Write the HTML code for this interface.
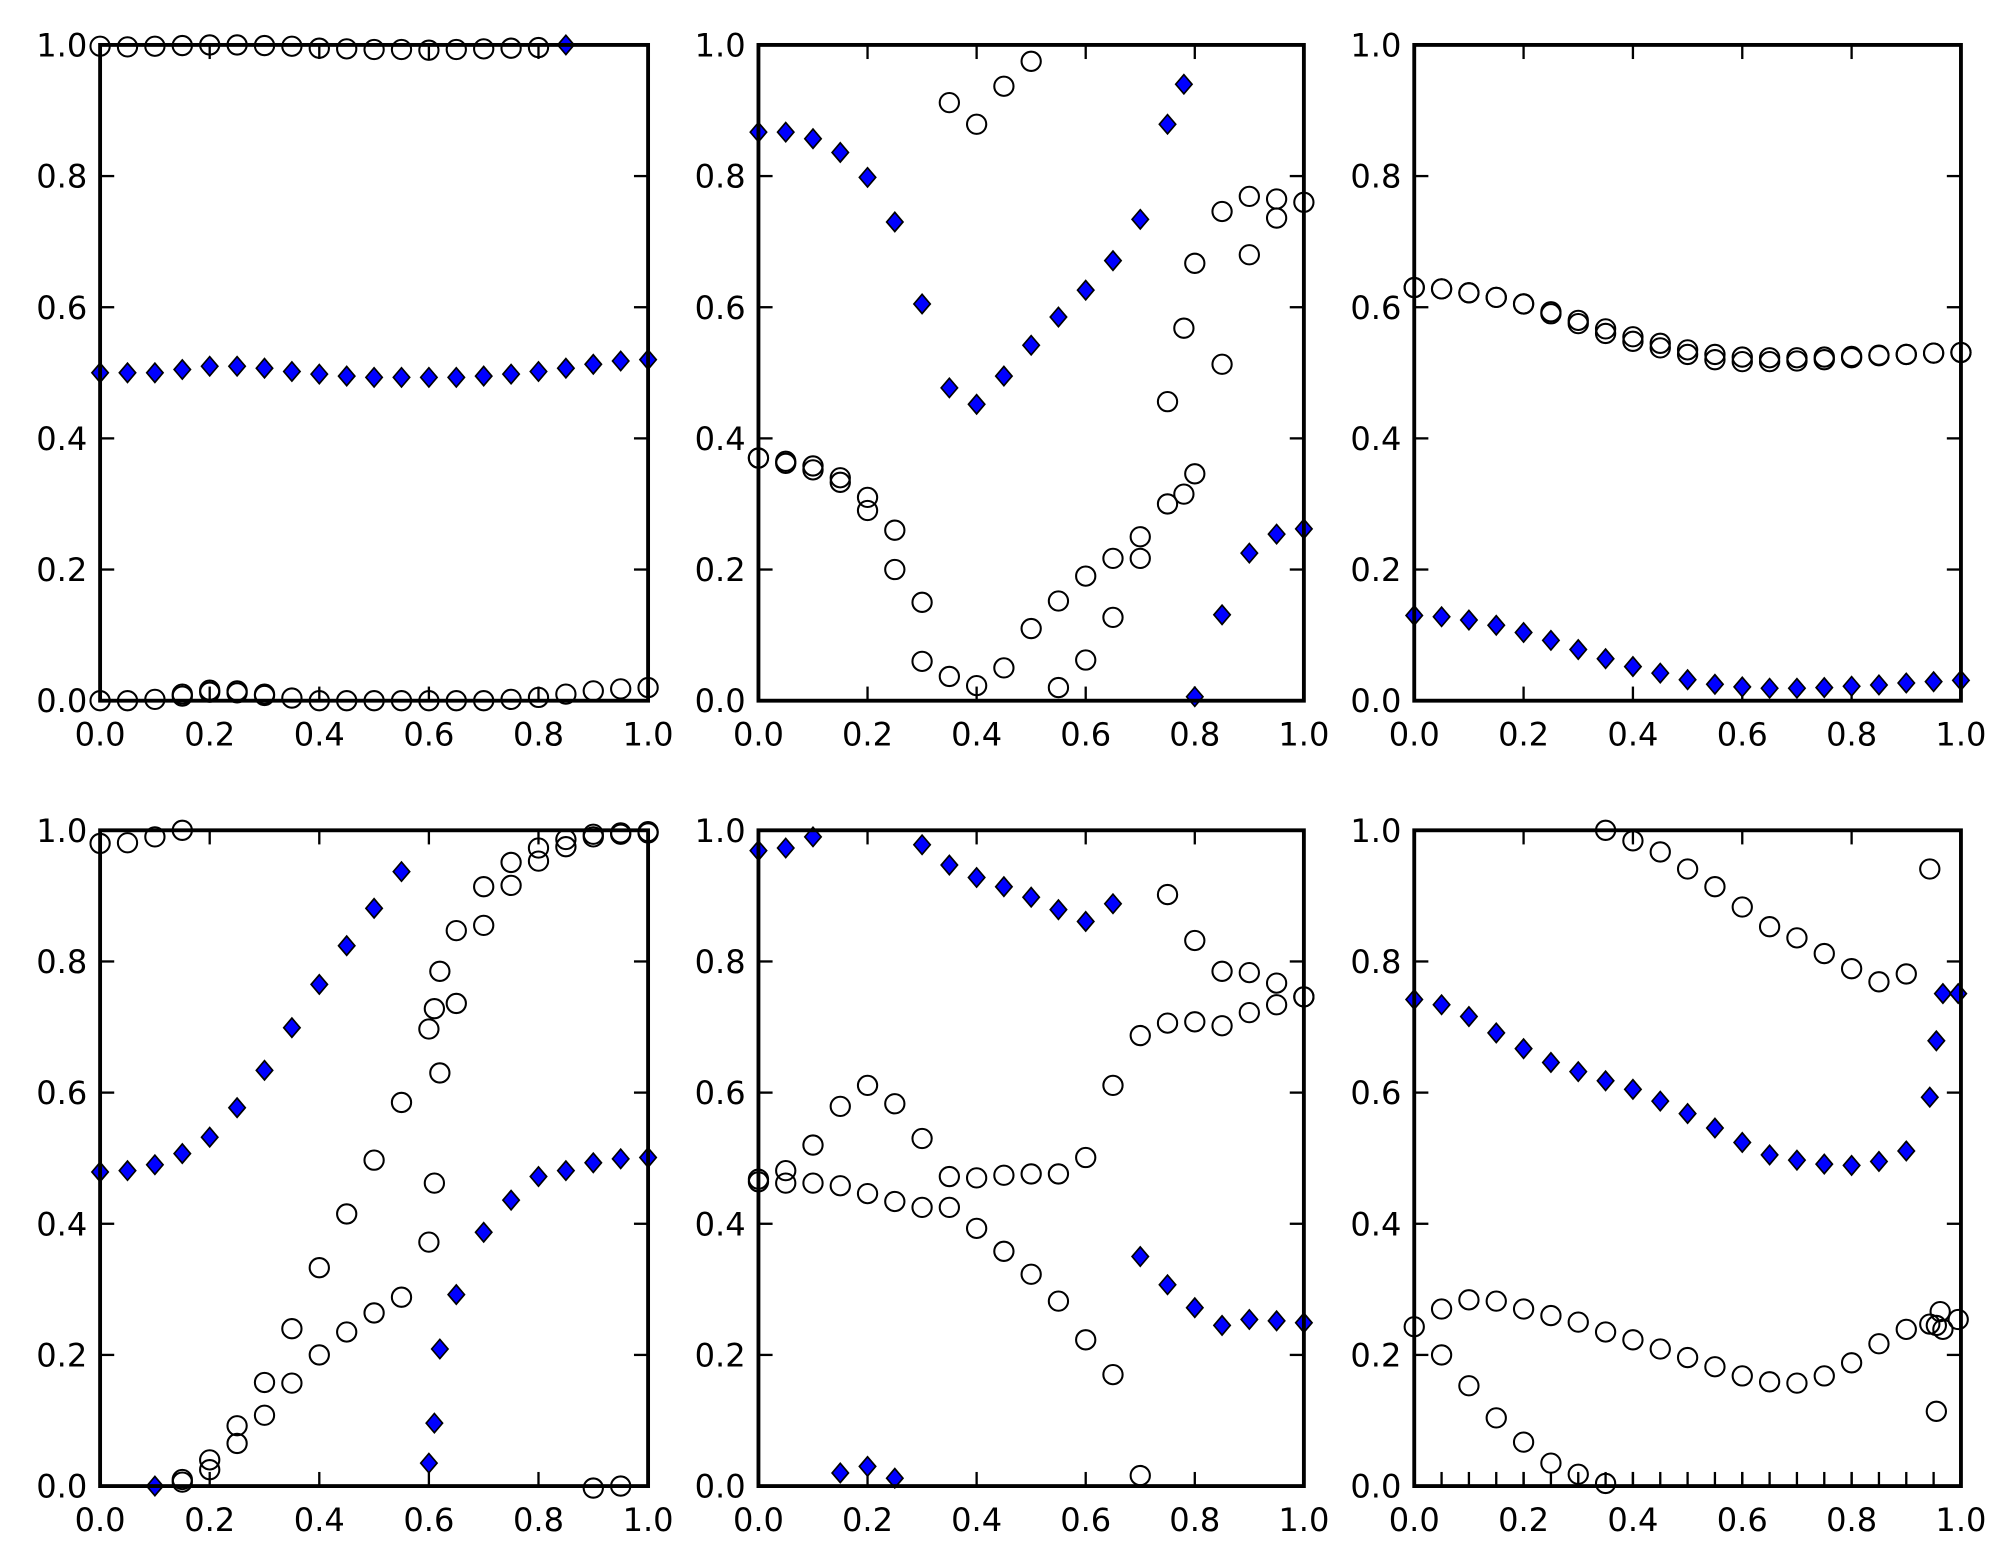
<!DOCTYPE html>
<html><head><meta charset="utf-8"><style>html,body{margin:0;padding:0;background:#fff}svg{display:block}</style></head>
<body>
<svg id="s" xmlns="http://www.w3.org/2000/svg" width="2011" height="1565" viewBox="0 0 1567 1219.5" preserveAspectRatio="none" font-family="DejaVu Sans, Liberation Sans, sans-serif"></svg>
<script>
const S=document.getElementById('s');let h='';
const cols=[[78,505],[591,1016],[1102,1528]],rows=[[35,546],[647,1158]];
function seq(a){return a.map((v,i)=>[i*0.05,v]);}
const P=[
 {c:0,r:0,d:seq([.50,.50,.50,.505,.51,.51,.507,.502,.498,.495,.493,.493,.493,.493,.495,.498,.502,.507,.513,.518,.52]).concat([[0.85,1.0]]),
  o:[seq([.998,.997,.998,.999,1,1,.999,.998,.995,.994,.993,.993,.992,.993,.994,.995,.996]),
     seq([0,0,.002,.007,.013,.012,.008,.004,0,0,0,0,0,0,0,.002,.005,.01,.015,.018,.02]),
     [[.15,.01],[.2,.016],[.25,.015],[.3,.01]]]},
 {c:1,r:0,d:[[0,.867],[.05,.867],[.1,.857],[.15,.836],[.2,.798],[.25,.73],[.3,.605],[.35,.477],[.4,.452],[.45,.495],[.5,.542],[.55,.585],[.6,.626],[.65,.671],[.7,.734],[.75,.879],[.78,.94],[.8,.006],[.85,.131],[.9,.225],[.95,.254],[1,.262]],
  o:[[[0,.37],[.05,.365],[.1,.358],[.15,.34],[.2,.31],[.25,.26],[.3,.15],[.35,.912],[.4,.879],[.45,.937],[.5,.975]],
     [[0,.37],[.05,.362],[.1,.352],[.15,.333],[.2,.29],[.25,.2],[.3,.06],[.35,.037],[.4,.023],[.45,.05],[.5,.11],[.55,.152],[.6,.19],[.65,.217],[.7,.25],[.75,.3],[.78,.315],[.8,.346],[.85,.513],[.9,.68],[.95,.736],[1,.76]],
     [[.55,.02],[.6,.062],[.65,.127],[.7,.217],[.75,.456],[.78,.568],[.8,.667],[.85,.746],[.9,.769],[.95,.765]]]},
 {c:2,r:0,d:seq([.13,.128,.123,.115,.104,.092,.078,.064,.052,.042,.032,.025,.021,.019,.019,.02,.022,.024,.027,.029,.031]),
  o:[seq([.63,.628,.622,.615,.605,.593,.58,.567,.555,.545,.535,.528,.524,.523,.523,.524,.525,.527,.528,.53,.531]),
     seq([.63,.628,.622,.615,.605,.59,.575,.56,.548,.538,.528,.52,.517,.517,.518,.52,.523,.526,.528,.53,.531])]},
 {c:0,r:1,d:[[0,.479],[.05,.481],[.1,.49],[.15,.507],[.2,.532],[.25,.577],[.3,.634],[.35,.699],[.4,.765],[.45,.824],[.5,.881],[.55,.937],[.6,.035],[.61,.096],[.62,.209],[.65,.292],[.7,.387],[.75,.436],[.8,.472],[.85,.481],[.9,.493],[.95,.499],[1,.501],[.1,0]],
  o:[[[0,.98],[.05,.981],[.1,.99],[.15,1]],
     [[.15,.01],[.2,.04],[.25,.092],[.3,.158],[.35,.24],[.4,.333],[.45,.415],[.5,.497],[.55,.585],[.6,.697],[.61,.728],[.62,.785],[.65,.847],[.7,.914],[.75,.951],[.8,.973],[.85,.986],[.9,.994],[.95,.996],[1,.998]],
     [[.15,.006],[.2,.025],[.25,.065],[.3,.108],[.35,.157],[.4,.2],[.45,.235],[.5,.264],[.55,.288],[.6,.372],[.61,.462],[.62,.63],[.65,.736],[.7,.855],[.75,.916],[.8,.953],[.85,.975],[.9,.99],[.95,.994],[1,.996],[.9,-.003],[.95,0]]]},
 {c:1,r:1,d:[[0,.969],[.05,.973],[.1,.99],[.15,.02],[.2,.03],[.25,.012],[.3,.978],[.35,.947],[.4,.928],[.45,.914],[.5,.898],[.55,.879],[.6,.861],[.65,.888],[.7,.35],[.75,.307],[.8,.272],[.85,.245],[.9,.254],[.95,.252],[1,.249]],
  o:[seq([.468,.481,.52,.579,.611,.583,.53,.472,.47,.474,.476,.476,.501,.611,.687,.706,.708,.702,.722,.734,.746]),
     seq([.464,.462,.462,.458,.446,.434,.425,.425,.393,.358,.323,.282,.223,.17,.016,.902,.832,.785,.783,.767,.746])]},
 {c:2,r:1,ticks:1,d:[[0,.742],[.05,.734],[.1,.716],[.15,.691],[.2,.667],[.25,.646],[.3,.632],[.35,.618],[.4,.605],[.45,.587],[.5,.568],[.55,.546],[.6,.524],[.65,.505],[.7,.497],[.75,.491],[.8,.489],[.85,.495],[.9,.511],[.943,.593],[.955,.679],[.967,.751],[.995,.751]],
  o:[[[.35,1],[.4,.984],[.45,.967],[.5,.941],[.55,.914],[.6,.883],[.65,.853],[.7,.836],[.75,.812],[.8,.789],[.85,.769],[.9,.781],[.943,.941]],
     [[0,.243],[.05,.27],[.1,.284],[.15,.282],[.2,.27],[.25,.26],[.3,.25],[.35,.235],[.4,.223],[.45,.209],[.5,.196],[.55,.182],[.6,.168],[.65,.159],[.7,.157],[.75,.168],[.8,.188],[.85,.217],[.9,.239],[.943,.247],[.955,.245],[.962,.266],[.967,.239],[.995,.254]],
     [[.05,.2],[.1,.153],[.15,.104],[.2,.067],[.25,.035],[.3,.018],[.35,.004],[.955,.114]]]}
];
P.forEach(p=>{
 const [x0,x1]=cols[p.c],[y0,y1]=rows[p.r],W=x1-x0,H=y1-y0;
 const X=u=>x0+u*W,Y=v=>y1-v*H;
 for(let i=0;i<=5;i++){const t=i*0.2,lab=t.toFixed(1);
  h+=`<line x1="${X(t)}" y1="${y1}" x2="${X(t)}" y2="${y1-11}" stroke="#000" stroke-width="1.8"/>`;
  h+=`<line x1="${X(t)}" y1="${y0}" x2="${X(t)}" y2="${y0+11}" stroke="#000" stroke-width="1.8"/>`;
  h+=`<line x1="${x0}" y1="${Y(t)}" x2="${x0+11}" y2="${Y(t)}" stroke="#000" stroke-width="1.8"/>`;
  h+=`<line x1="${x1}" y1="${Y(t)}" x2="${x1-11}" y2="${Y(t)}" stroke="#000" stroke-width="1.8"/>`;
  h+=`<text x="${X(t)}" y="${y1+35}" font-size="25" text-anchor="middle">${lab}</text>`;
  h+=`<text x="${x0-10}" y="${Y(t)+9}" font-size="25" text-anchor="end">${lab}</text>`;}
 if(p.ticks){for(let i=1;i<20;i++)h+=`<line x1="${X(i*.05)}" y1="${y1}" x2="${X(i*.05)}" y2="${y1-11}" stroke="#000" stroke-width="1.8"/>`;}
 p.o.forEach(s=>s.forEach(([u,v])=>{h+=`<circle cx="${X(u)}" cy="${Y(v)}" r="7.5" fill="none" stroke="#000" stroke-width="1.6"/>`;}));
 p.d.forEach(([u,v])=>{const x=X(u),y=Y(v),r=7.5;h+=`<polygon points="${x},${y-r} ${x+r*0.85},${y} ${x},${y+r} ${x-r*0.85},${y}" fill="#0000ff" stroke="#000" stroke-width="1.3"/>`;});
 h+=`<rect x="${x0}" y="${y0}" width="${W}" height="${H}" fill="none" stroke="#000" stroke-width="3"/>`;
});
S.innerHTML=h;
</script>
</body></html>
